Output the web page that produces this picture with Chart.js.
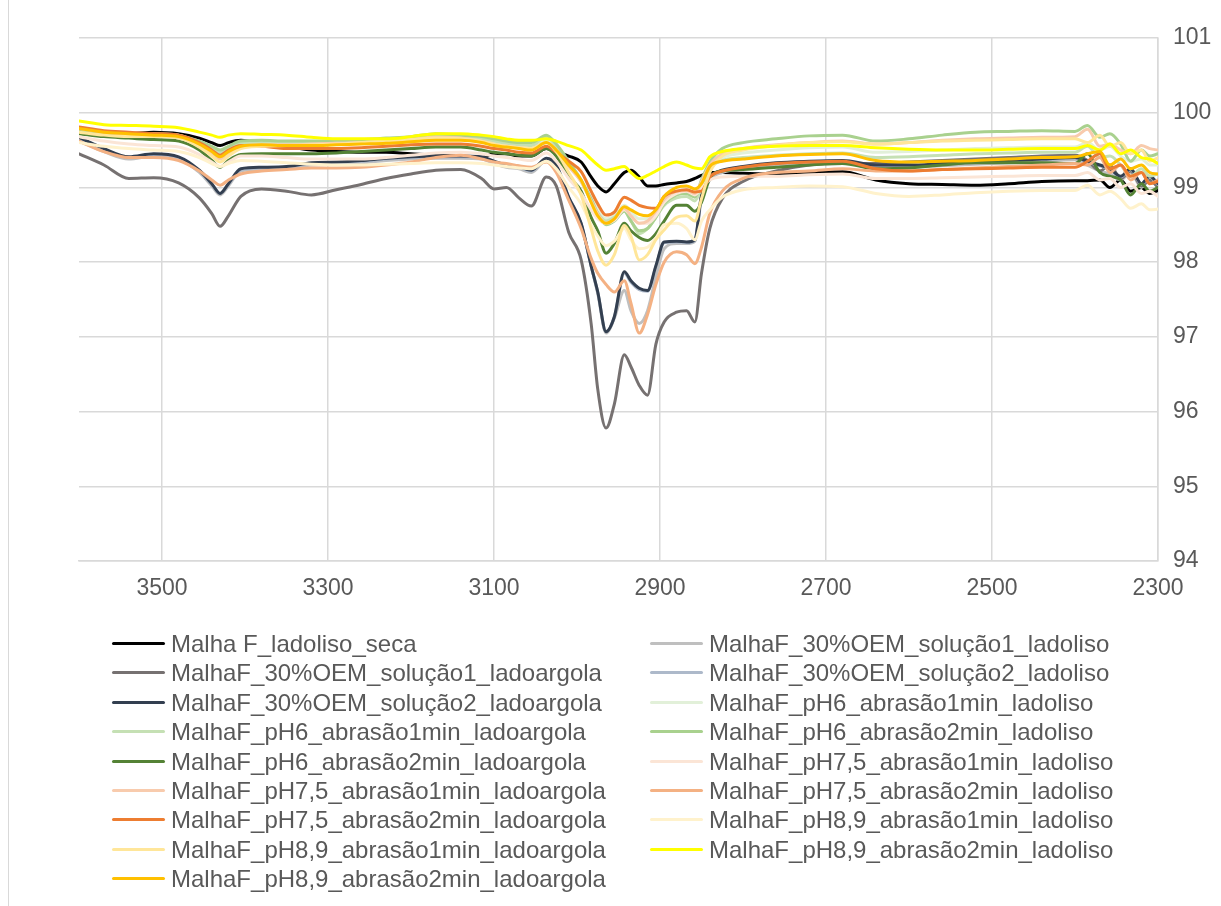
<!DOCTYPE html>
<html>
<head>
<meta charset="utf-8">
<script src="https://cdn.jsdelivr.net/npm/chart.js@4.4.1/dist/chart.umd.min.js"></script>
<style>
  html, body { margin: 0; padding: 0; background: #ffffff; }
  #wrap { position: relative; width: 1221px; height: 906px; overflow: hidden; background: #fff; }
  #chart { position: absolute; left: 0; top: 0; }
  #frame { position: absolute; left: 8px; top: 0; width: 1px; height: 906px; background: #D9D9D9; }
  #legend { position: absolute; left: 0; top: 0; width: 1221px; height: 906px; pointer-events: none;
            font-family: "Liberation Sans", Arial, Helvetica, sans-serif; font-size: 24px; color: #595959; }
  .li { position: absolute; height: 30px; line-height: 30px; white-space: nowrap; }
  .li .sw { position: absolute; left: 0; top: 13px; width: 53px; height: 3px; border-radius: 1.5px; }
  .li .tx { position: absolute; left: 59px; top: 0; }
</style>
</head>
<body>
<div id="wrap">
  <canvas id="chart" width="1221" height="906"></canvas>
  <div id="frame"></div>
  <div id="legend"></div>
</div>
<script>
const wavenumbers = [3600,3570,3540,3510,3480,3455,3440,3430,3420,3405,3380,3350,3320,3290,3260,3230,3200,3170,3140,3115,3100,3085,3070,3055,3037,3025,3010,2995,2983,2975,2965,2955,2943,2935,2925,2915,2905,2895,2880,2868,2858,2850,2840,2825,2800,2760,2720,2680,2640,2600,2560,2520,2480,2440,2400,2385,2370,2358,2345,2333,2320,2310,2300];

const xTickValues = [3500, 3300, 3100, 2900, 2700, 2500, 2300];
const yTickValues = [94, 95, 96, 97, 98, 99, 100, 101];

const seriesNames = [
  "Malha F_ladoliso_seca",
  "MalhaF_30%OEM_solução1_ladoliso",
  "MalhaF_30%OEM_solução1_ladoargola",
  "MalhaF_30%OEM_solução2_ladoliso",
  "MalhaF_30%OEM_solução2_ladoargola",
  "MalhaF_pH6_abrasão1min_ladoliso",
  "MalhaF_pH6_abrasão1min_ladoargola",
  "MalhaF_pH6_abrasão2min_ladoliso",
  "MalhaF_pH6_abrasão2min_ladoargola",
  "MalhaF_pH7,5_abrasão1min_ladoliso",
  "MalhaF_pH7,5_abrasão1min_ladoargola",
  "MalhaF_pH7,5_abrasão2min_ladoliso",
  "MalhaF_pH7,5_abrasão2min_ladoargola",
  "MalhaF_pH8,9_abrasão1min_ladoliso",
  "MalhaF_pH8,9_abrasão1min_ladoargola",
  "MalhaF_pH8,9_abrasão2min_ladoliso",
  "MalhaF_pH8,9_abrasão2min_ladoargola"
];

const seriesColors = ["#000000","#BFBFBF","#767171","#ADB9CA","#333F50","#E2F0D9","#C5E0B4","#A9D18E","#548235","#FBE5D6","#F8CBAD","#F4B183","#ED7D31","#FFF2CC","#FFE699","#FFFF00","#FFC000"];

const s01_seca = [99.75,99.74,99.72,99.74,99.72,99.66,99.60,99.56,99.60,99.63,
  99.60,99.55,99.50,99.48,99.47,99.47,99.45,99.43,99.42,99.40,
  99.45,99.45,99.42,99.42,99.52,99.48,99.42,99.34,99.14,99.02,
  98.94,99.05,99.20,99.23,99.14,99.02,99.02,99.04,99.06,99.08,
  99.12,99.16,99.20,99.20,99.19,99.18,99.20,99.21,99.10,99.05,
  99.04,99.03,99.05,99.08,99.09,99.09,99.10,99.00,99.10,98.95,
  99.00,98.92,98.96];
const s02_sol1_liso = [99.62,99.48,99.38,99.42,99.38,99.20,99.02,98.90,99.02,99.22,
  99.24,99.25,99.30,99.31,99.33,99.36,99.38,99.39,99.39,99.38,
  99.32,99.27,99.25,99.20,99.36,99.27,98.85,98.50,97.95,97.58,
  97.05,97.25,97.62,97.35,97.18,97.35,97.80,98.18,98.25,98.25,
  98.28,98.85,99.10,99.20,99.25,99.30,99.32,99.33,99.27,99.27,
  99.29,99.31,99.33,99.35,99.37,99.30,99.22,99.18,99.10,99.20,
  99.00,99.10,99.00];
const s03_sol1_argola = [99.45,99.30,99.12,99.13,99.06,98.86,98.65,98.48,98.62,98.88,
  98.98,98.95,98.90,98.97,99.04,99.12,99.18,99.23,99.24,99.12,
  98.98,99.00,98.86,98.75,99.14,99.02,98.40,98.03,97.18,96.30,
  95.78,96.10,96.76,96.60,96.35,96.22,96.90,97.20,97.33,97.35,
  97.20,97.85,98.45,98.85,99.08,99.22,99.30,99.32,99.32,99.34,
  99.36,99.38,99.40,99.42,99.43,99.36,99.22,99.30,99.12,99.22,
  99.02,99.10,99.00];
const s04_sol2_liso = [99.66,99.51,99.40,99.44,99.40,99.22,99.04,98.92,99.04,99.24,
  99.26,99.27,99.32,99.33,99.35,99.38,99.40,99.41,99.41,99.40,
  99.34,99.29,99.27,99.22,99.38,99.29,98.86,98.51,97.95,97.60,
  97.07,97.27,97.85,97.73,97.63,97.61,97.94,98.26,98.27,98.26,
  98.29,98.89,99.13,99.22,99.27,99.32,99.34,99.35,99.29,99.29,
  99.31,99.33,99.35,99.37,99.39,99.34,99.29,99.24,99.14,99.24,
  99.04,99.14,99.04];
const s05_sol2_argola = [99.67,99.52,99.41,99.45,99.41,99.23,99.05,98.92,99.05,99.25,
  99.27,99.28,99.33,99.34,99.36,99.39,99.41,99.42,99.42,99.41,
  99.35,99.30,99.28,99.23,99.39,99.30,98.87,98.52,97.95,97.60,
  97.07,97.27,97.87,97.75,97.65,97.62,97.95,98.27,98.28,98.27,
  98.30,98.90,99.14,99.23,99.28,99.33,99.35,99.36,99.30,99.30,
  99.32,99.34,99.36,99.38,99.40,99.35,99.30,99.25,99.15,99.25,
  99.05,99.15,99.05];
const s06_ph6_1_liso = [99.74,99.70,99.68,99.68,99.66,99.58,99.50,99.45,99.50,99.57,
  99.58,99.57,99.57,99.58,99.59,99.61,99.63,99.66,99.65,99.62,
  99.60,99.57,99.55,99.54,99.64,99.52,99.30,99.08,98.85,98.70,
  98.58,98.62,98.76,98.68,98.58,98.58,98.68,98.85,98.95,98.95,
  98.90,99.05,99.28,99.40,99.46,99.50,99.53,99.54,99.47,99.48,
  99.50,99.52,99.53,99.54,99.54,99.60,99.50,99.55,99.42,99.35,
  99.38,99.30,99.30];
const s07_ph6_1_argola = [99.76,99.72,99.70,99.70,99.68,99.60,99.52,99.47,99.52,99.59,
  99.60,99.59,99.59,99.60,99.61,99.63,99.65,99.69,99.68,99.65,
  99.62,99.59,99.57,99.56,99.68,99.55,99.32,99.08,98.82,98.66,
  98.55,98.60,98.72,98.56,98.38,98.45,98.60,98.76,98.86,98.88,
  98.82,99.00,99.25,99.36,99.40,99.43,99.45,99.46,99.40,99.41,
  99.43,99.45,99.46,99.47,99.47,99.55,99.40,99.42,99.30,99.15,
  99.25,99.15,99.18];
const s08_ph6_2_liso = [99.78,99.74,99.72,99.72,99.70,99.62,99.55,99.50,99.55,99.62,
  99.63,99.62,99.62,99.63,99.64,99.66,99.68,99.72,99.70,99.68,
  99.65,99.62,99.60,99.60,99.70,99.58,99.35,99.10,98.85,98.65,
  98.50,98.55,98.68,98.55,98.42,98.45,98.60,98.78,98.90,98.92,
  98.87,99.10,99.34,99.52,99.60,99.65,99.69,99.70,99.62,99.65,
  99.70,99.74,99.75,99.76,99.75,99.83,99.67,99.72,99.58,99.35,
  99.50,99.42,99.45];
const s09_ph6_2_argola = [99.72,99.68,99.66,99.64,99.62,99.50,99.36,99.27,99.36,99.44,
  99.45,99.45,99.45,99.46,99.48,99.50,99.52,99.54,99.54,99.50,
  99.47,99.45,99.43,99.42,99.52,99.42,99.15,98.95,98.60,98.42,
  98.12,98.25,98.52,98.42,98.33,98.29,98.38,98.55,98.76,98.76,
  98.68,98.80,99.12,99.22,99.24,99.27,99.30,99.32,99.25,99.26,
  99.30,99.33,99.33,99.33,99.32,99.45,99.20,99.15,99.10,98.90,
  99.05,98.95,99.00];
const s10_ph75_1_liso = [99.68,99.62,99.58,99.56,99.54,99.44,99.34,99.28,99.34,99.42,
  99.42,99.40,99.38,99.38,99.38,99.40,99.43,99.46,99.47,99.45,
  99.42,99.40,99.38,99.36,99.46,99.35,99.12,98.92,98.70,98.58,
  98.52,98.56,98.70,98.62,98.52,98.52,98.62,98.80,98.92,98.95,
  98.90,99.00,99.10,99.14,99.15,99.15,99.17,99.18,99.12,99.12,
  99.13,99.14,99.15,99.16,99.16,99.20,99.10,99.12,99.00,99.05,
  98.92,98.95,98.88];
const s11_ph75_1_argola = [99.79,99.74,99.72,99.72,99.70,99.58,99.46,99.38,99.46,99.55,
  99.57,99.57,99.58,99.59,99.60,99.62,99.64,99.67,99.66,99.62,
  99.58,99.55,99.53,99.52,99.60,99.50,99.28,99.08,98.82,98.65,
  98.52,98.58,98.72,98.62,98.52,98.55,98.68,98.84,98.95,98.96,
  98.92,99.08,99.30,99.45,99.52,99.57,99.60,99.62,99.58,99.60,
  99.63,99.65,99.66,99.67,99.68,99.78,99.55,99.58,99.50,99.45,
  99.56,99.52,99.50];
const s12_ph75_2_liso = [99.62,99.48,99.40,99.40,99.36,99.22,99.10,99.03,99.10,99.18,
  99.22,99.24,99.26,99.26,99.27,99.30,99.34,99.40,99.43,99.38,
  99.34,99.32,99.29,99.27,99.34,99.20,98.83,98.45,98.05,97.85,
  97.70,97.60,97.75,97.45,97.05,97.30,97.70,98.00,98.14,98.10,
  97.98,98.20,98.65,98.95,99.12,99.20,99.22,99.25,99.22,99.22,
  99.24,99.26,99.28,99.30,99.32,99.30,99.40,99.20,99.30,99.10,
  99.20,99.05,99.10];
const s13_ph75_2_argola = [99.81,99.76,99.74,99.72,99.70,99.60,99.50,99.43,99.50,99.56,
  99.55,99.52,99.52,99.52,99.53,99.55,99.57,99.58,99.58,99.55,
  99.52,99.50,99.47,99.46,99.55,99.47,99.35,99.21,98.95,98.78,
  98.63,98.67,98.87,98.83,98.76,98.73,98.72,98.88,98.95,98.97,
  98.94,98.95,99.14,99.22,99.27,99.32,99.34,99.35,99.25,99.22,
  99.24,99.25,99.26,99.27,99.27,99.35,99.45,99.25,99.30,99.15,
  99.20,99.05,99.08];
const s14_ph89_1_liso = [99.60,99.55,99.52,99.50,99.48,99.40,99.32,99.28,99.32,99.36,
  99.35,99.33,99.31,99.30,99.30,99.31,99.32,99.33,99.33,99.32,
  99.30,99.28,99.26,99.25,99.35,99.25,99.00,98.78,98.50,98.35,
  98.22,98.28,98.45,98.30,98.18,98.20,98.32,98.50,98.52,98.45,
  98.30,98.55,98.70,98.87,98.97,99.00,99.02,99.01,98.92,98.88,
  98.90,98.93,98.95,98.96,98.96,99.03,98.90,98.95,98.85,98.72,
  98.78,98.70,98.71];
const s15_ph89_1_argola = [99.74,99.70,99.68,99.68,99.66,99.54,99.42,99.34,99.42,99.52,
  99.55,99.56,99.57,99.58,99.60,99.62,99.64,99.66,99.65,99.62,
  99.58,99.55,99.53,99.52,99.60,99.48,99.20,98.90,98.45,98.15,
  97.96,98.10,98.49,98.35,98.03,98.10,98.30,98.43,98.60,98.62,
  98.55,98.85,99.20,99.42,99.50,99.56,99.60,99.61,99.58,99.60,
  99.62,99.63,99.64,99.65,99.65,99.60,99.70,99.55,99.60,99.45,
  99.50,99.35,99.40];
const s16_ph89_2_liso = [99.89,99.84,99.83,99.82,99.80,99.74,99.70,99.67,99.70,99.72,
  99.71,99.70,99.67,99.65,99.65,99.65,99.68,99.72,99.72,99.70,
  99.68,99.65,99.63,99.63,99.65,99.62,99.56,99.50,99.38,99.30,
  99.23,99.25,99.28,99.20,99.12,99.16,99.22,99.28,99.34,99.30,
  99.26,99.25,99.41,99.48,99.52,99.55,99.56,99.56,99.53,99.51,
  99.50,99.50,99.51,99.52,99.52,99.56,99.50,99.58,99.45,99.50,
  99.40,99.38,99.32];
const s17_ph89_2_argola = [99.79,99.74,99.72,99.70,99.68,99.58,99.48,99.41,99.48,99.55,
  99.57,99.56,99.56,99.57,99.58,99.59,99.61,99.63,99.63,99.60,
  99.56,99.54,99.52,99.50,99.60,99.50,99.30,99.10,98.80,98.62,
  98.52,98.58,98.74,98.70,98.64,98.62,98.70,98.88,99.00,99.02,
  98.98,99.05,99.28,99.35,99.38,99.42,99.44,99.45,99.36,99.34,
  99.35,99.36,99.38,99.40,99.41,99.45,99.48,99.30,99.38,99.25,
  99.30,99.20,99.18];

const seriesValues = [s01_seca, s02_sol1_liso, s03_sol1_argola, s04_sol2_liso, s05_sol2_argola,
  s06_ph6_1_liso, s07_ph6_1_argola, s08_ph6_2_liso, s09_ph6_2_argola,
  s10_ph75_1_liso, s11_ph75_1_argola, s12_ph75_2_liso, s13_ph75_2_argola,
  s14_ph89_1_liso, s15_ph89_1_argola, s16_ph89_2_liso, s17_ph89_2_argola];

const FONT = '"Liberation Sans", Arial, Helvetica, sans-serif';
const N = seriesValues.length;

const datasets = seriesValues.map((vals, i) => ({
  label: seriesNames[i],
  data: vals.map((v, j) => ({ x: wavenumbers[j], y: v })),
  borderColor: seriesColors[i],
  backgroundColor: seriesColors[i],
  borderWidth: 3,
  pointRadius: 0,
  pointHoverRadius: 0,
  fill: false,
  cubicInterpolationMode: 'monotone',
  borderCapStyle: 'round',
  borderJoinStyle: 'round',
  order: N - i
}));

new Chart(document.getElementById('chart'), {
  type: 'line',
  data: { datasets },
  options: {
    responsive: false,
    animation: false,
    devicePixelRatio: 1,
    layout: { padding: { left: 79, top: 38, right: 0, bottom: 295 } },
    plugins: { legend: { display: false }, tooltip: { enabled: false } },
    scales: {
      x: {
        type: 'linear',
        reverse: true,
        min: 2300,
        max: 3600,
        afterBuildTicks: (scale) => { scale.ticks = xTickValues.map(v => ({ value: v })); },
        afterFit: (scale) => { scale.height = 50; },
        grid: { color: '#D9D9D9', lineWidth: 1.5, drawTicks: false },
        border: { display: true, color: '#D9D9D9', width: 1.5 },
        ticks: { color: '#595959', font: { family: FONT, size: 23 }, padding: 14, maxRotation: 0, autoSkip: false,
                 callback: (v) => String(v) }
      },
      y: {
        position: 'right',
        min: 94,
        max: 101,
        afterBuildTicks: (scale) => { scale.ticks = yTickValues.map(v => ({ value: v })); },
        afterFit: (scale) => { scale.width = 63; },
        grid: { color: '#D9D9D9', lineWidth: 1.5, drawTicks: false },
        border: { display: true, color: '#D9D9D9', width: 1.5 },
        ticks: { color: '#595959', font: { family: FONT, size: 23 }, padding: 15, callback: (v) => String(v) }
      }
    }
  }
});

// HTML legend (two columns, Excel-style row-wise order)
const legendEl = document.getElementById('legend');
const legendCols = [112, 650];
const legendTop = 629;
const legendRowH = 29.4;
seriesNames.forEach((name, i) => {
  const row = Math.floor(i / 2), col = i % 2;
  const item = document.createElement('div');
  item.className = 'li';
  item.style.left = legendCols[col] + 'px';
  item.style.top = (legendTop + row * legendRowH) + 'px';
  const sw = document.createElement('span');
  sw.className = 'sw';
  sw.style.background = seriesColors[i];
  const tx = document.createElement('span');
  tx.className = 'tx';
  tx.textContent = name;
  item.appendChild(sw);
  item.appendChild(tx);
  legendEl.appendChild(item);
});
</script>
</body>
</html>
